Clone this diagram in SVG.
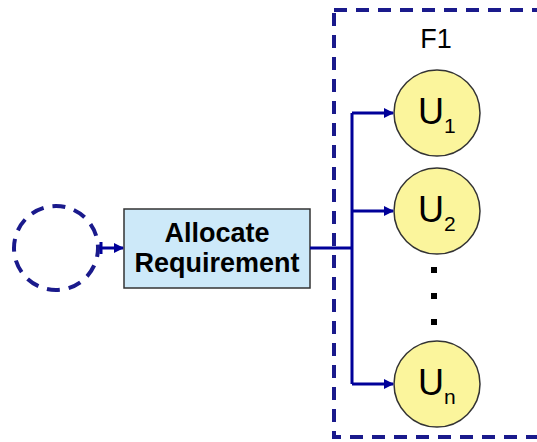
<svg xmlns="http://www.w3.org/2000/svg" width="537" height="442" viewBox="0 0 537 442">
<defs>
<style>
.dash{fill:none;stroke:#1a1a8c;stroke-width:4;stroke-dasharray:13 9}
.conn{fill:none;stroke:#000099;stroke-width:3}
.u{fill:#fbf59c;stroke:#333;stroke-width:1.5}
.t{font-family:"Liberation Sans",Arial,sans-serif;fill:#000}
.dot{fill:#000}
</style>
<marker id="ah" markerWidth="10" markerHeight="10" refX="9" refY="5" orient="auto" markerUnits="userSpaceOnUse">
<path d="M0,0 L10,5 L0,10 Z" fill="#000099"/>
</marker>
</defs>
<rect width="537" height="442" fill="#fff"/>
<g id="frame">
<rect class="dash" x="334" y="10" width="230" height="427"/>
<text class="t" x="436" y="48" font-size="27" text-anchor="middle">F1</text>
</g>
<g id="start">
<circle class="dash" cx="56" cy="248" r="42" stroke-dasharray="19 14" stroke-dashoffset="26"/>
</g>
<g id="alloc">
<rect x="124" y="209" width="186" height="79" fill="#cde9f9" stroke="#333" stroke-width="1.5"/>
<text class="t" x="217" y="242" font-size="27" font-weight="bold" text-anchor="middle">Allocate</text>
<text class="t" x="217" y="272" font-size="27" font-weight="bold" text-anchor="middle">Requirement</text>
</g>
<g id="u1">
<circle class="u" cx="437" cy="113" r="43"/>
<text class="t" x="418" y="124" font-size="36">U<tspan font-size="21" dy="9">1</tspan></text>
</g>
<g id="u2">
<circle class="u" cx="437" cy="211" r="43"/>
<text class="t" x="418" y="222" font-size="36">U<tspan font-size="21" dy="9">2</tspan></text>
</g>
<g id="un">
<circle class="u" cx="437" cy="384" r="43"/>
<text class="t" x="418" y="395" font-size="36">U<tspan font-size="21" dy="9">n</tspan></text>
</g>
<g id="dots">
<rect class="dot" x="431" y="267" width="6" height="6"/>
<rect class="dot" x="431" y="293" width="6" height="6"/>
<rect class="dot" x="431" y="319" width="6" height="6"/>
</g>
<g id="connectors">
<path class="conn" d="M101,248 H123" marker-end="url(#ah)"/>
<path class="conn" d="M101,242 V254"/>
<path class="conn" d="M310,248 H352"/>
<path class="conn" d="M352,113 V384"/>
<path class="conn" d="M352,113 H393" marker-end="url(#ah)"/>
<path class="conn" d="M352,211 H393" marker-end="url(#ah)"/>
<path class="conn" d="M352,384 H393" marker-end="url(#ah)"/>
</g>
</svg>
